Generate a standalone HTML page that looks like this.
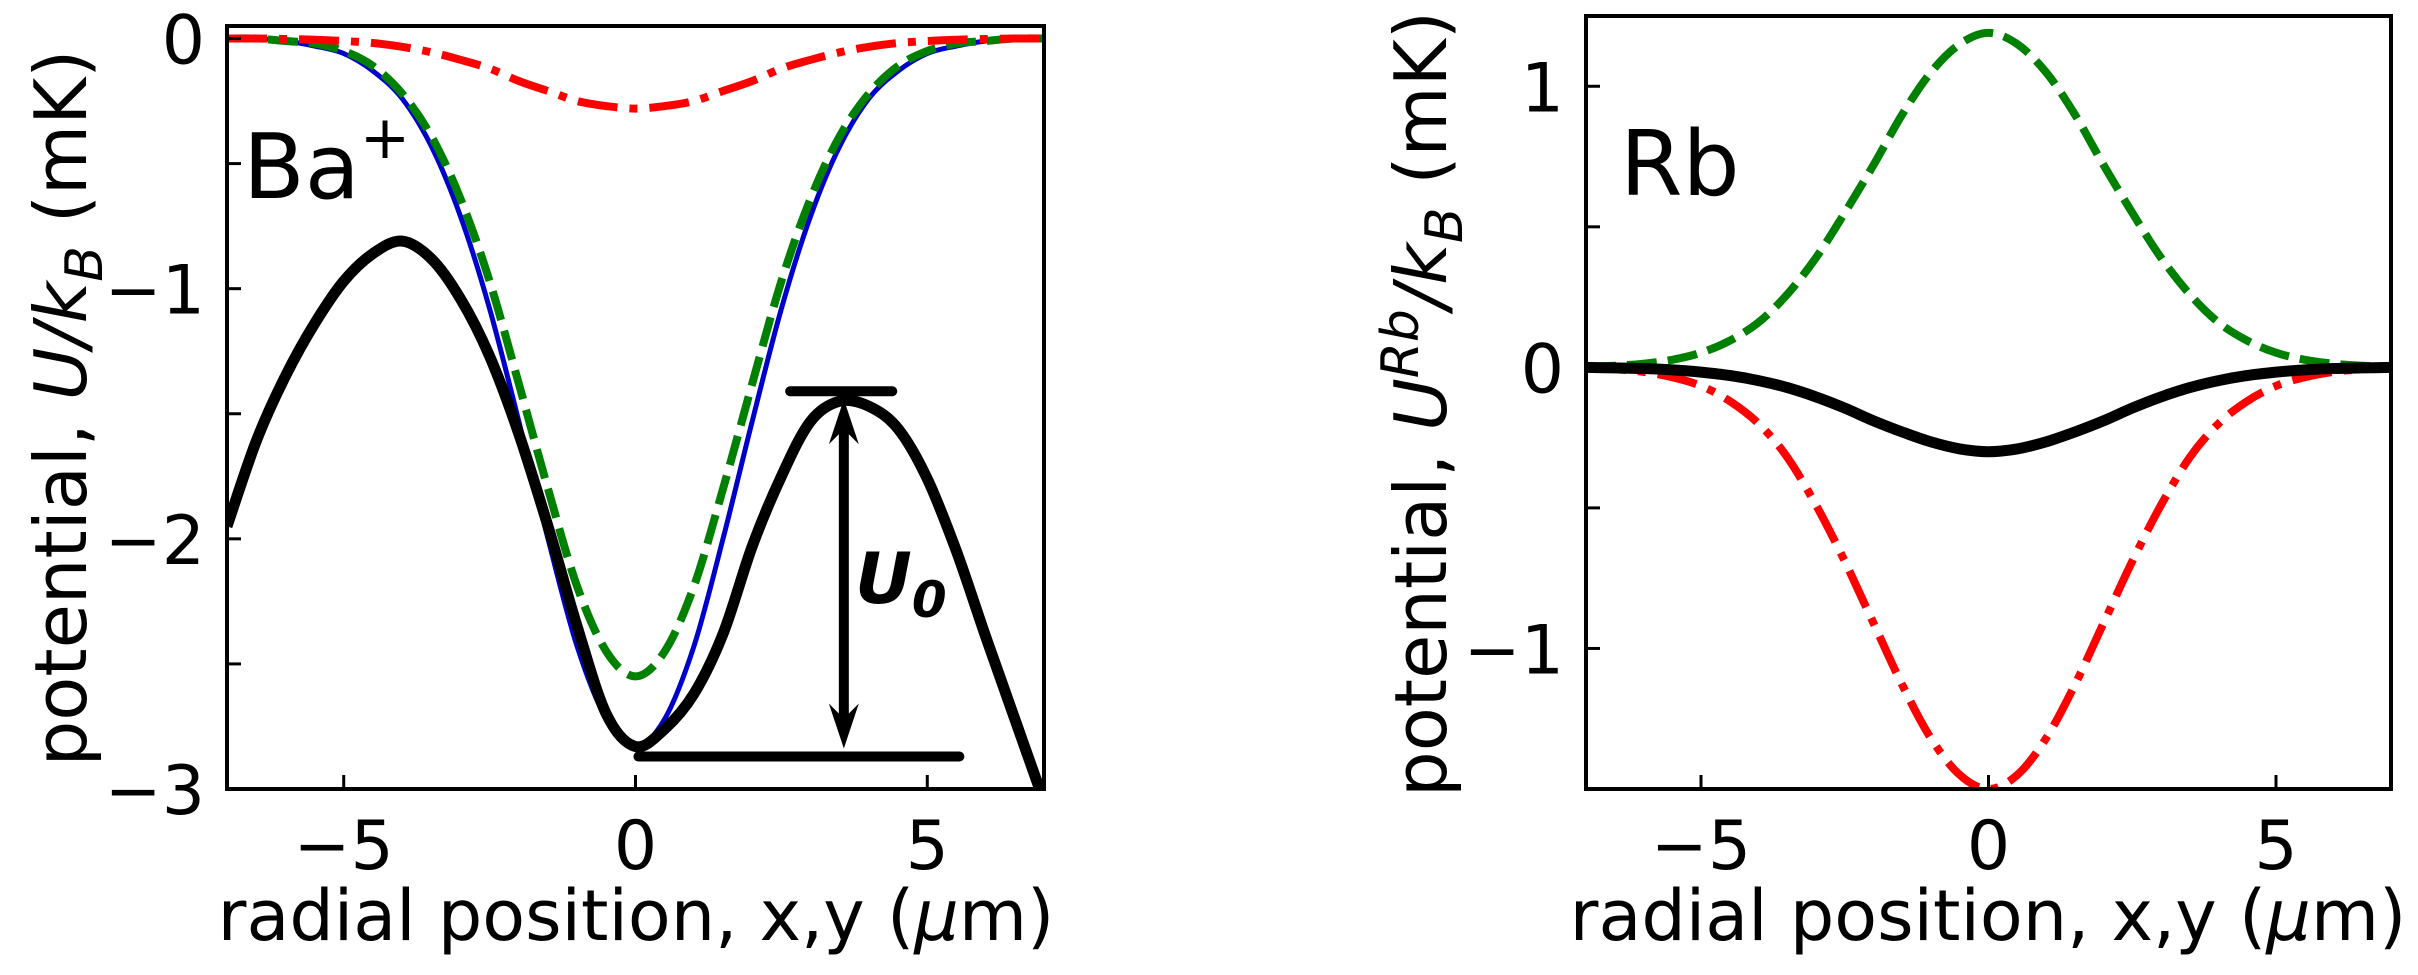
<!DOCTYPE html>
<html><head><meta charset="utf-8"><style>
html,body{margin:0;padding:0;background:#fff;}
svg{display:block;font-family:"DejaVu Sans","Liberation Sans",sans-serif;}
</style></head><body>
<svg id="fig" width="2418" height="975" viewBox="0 0 2418 975" xmlns="http://www.w3.org/2000/svg">
<g id="left"></g>
<g id="right"></g>
</svg>
<script>
const xs = [-7,-6.5,-6,-5.5,-5,-4.5,-4,-3.5,-3,-2.5,-2,-1.5,-1,-0.5,0,0.5,1,1.5,2,2.5,3,3.5,4,4.5,5,5.5,6,6.5,7];
const baTotal = [-1.95,-1.61,-1.35,-1.14,-0.97,-0.86,-0.81,-0.88,-1.04,-1.27,-1.58,-1.95,-2.35,-2.70,-2.83,-2.76,-2.62,-2.38,-2.03,-1.75,-1.53,-1.45,-1.47,-1.56,-1.76,-2.05,-2.39,-2.72,-3.05];
const baBlue = [0,0,-0.01,-0.03,-0.06,-0.13,-0.24,-0.43,-0.71,-1.08,-1.53,-2.00,-2.43,-2.72,-2.83,-2.72,-2.43,-2.00,-1.53,-1.08,-0.71,-0.43,-0.24,-0.13,-0.06,-0.03,-0.01,0,0];
const baGreen = [0,0,-0.01,-0.02,-0.05,-0.11,-0.22,-0.39,-0.64,-0.97,-1.38,-1.80,-2.19,-2.45,-2.55,-2.45,-2.19,-1.80,-1.38,-0.97,-0.64,-0.39,-0.22,-0.11,-0.05,-0.02,-0.01,0,0];
const baRed = [0,0,-0.002,-0.005,-0.01,-0.018,-0.033,-0.055,-0.085,-0.12,-0.17,-0.21,-0.25,-0.27,-0.28,-0.27,-0.25,-0.21,-0.17,-0.12,-0.085,-0.055,-0.033,-0.018,-0.01,-0.005,-0.002,0,0];
const rbTotal = [0,-0.002,-0.004,-0.009,-0.017,-0.029,-0.047,-0.072,-0.105,-0.145,-0.19,-0.23,-0.265,-0.29,-0.30,-0.29,-0.265,-0.23,-0.19,-0.145,-0.105,-0.072,-0.047,-0.029,-0.017,-0.009,-0.004,-0.002,0];
const rbGreen = [0.002,0.006,0.013,0.027,0.052,0.095,0.16,0.26,0.39,0.55,0.72,0.90,1.05,1.15,1.19,1.15,1.05,0.90,0.72,0.55,0.39,0.26,0.16,0.095,0.052,0.027,0.013,0.006,0.002];
const rbRed = [-0.003,-0.007,-0.016,-0.035,-0.066,-0.12,-0.20,-0.32,-0.49,-0.69,-0.91,-1.13,-1.32,-1.45,-1.50,-1.45,-1.32,-1.13,-0.91,-0.69,-0.49,-0.32,-0.20,-0.12,-0.066,-0.035,-0.016,-0.007,-0.003];
const xTicks = [-5,0,5];
const xTickLabels = ["\u22125","0","5"];
const baYTicks = [0,-1,-2,-3];
const baYTickLabels = ["0","\u22121","\u22122","\u22123"];
const rbYTicks = [1,0,-1];
const rbYTickLabels = ["1","0","\u22121"];

const NS="http://www.w3.org/2000/svg";
function mk(parent,tag,attrs,text){const e=document.createElementNS(NS,tag);for(const k in attrs)e.setAttribute(k,attrs[k]);if(text!==undefined)e.textContent=text;parent.appendChild(e);return e;}
function path(xf,yf,ys){
  const p=xs.map((x,i)=>[xf(x),yf(ys[i])]);
  let d="M"+p[0][0].toFixed(1)+","+p[0][1].toFixed(1);
  for(let i=0;i<p.length-1;i++){
    const p0=p[Math.max(0,i-1)],p1=p[i],p2=p[i+1],p3=p[Math.min(p.length-1,i+2)];
    const c1=[p1[0]+(p2[0]-p0[0])/6,p1[1]+(p2[1]-p0[1])/6];
    const c2=[p2[0]-(p3[0]-p1[0])/6,p2[1]-(p3[1]-p1[1])/6];
    d+="C"+c1[0].toFixed(1)+","+c1[1].toFixed(1)+" "+c2[0].toFixed(1)+","+c2[1].toFixed(1)+" "+p2[0].toFixed(1)+","+p2[1].toFixed(1);
  }
  return d;
}
function panel(g,id,L,R,T,B,ymin,ymax,yTicks,yLabels,minorTicks){
  const xf=x=>L+(x+7)/14*(R-L);
  const yf=y=>B-(y-ymin)/(ymax-ymin)*(B-T);
  const defs=mk(g,"defs",{});
  const cp=mk(defs,"clipPath",{id:"clip-"+id});
  mk(cp,"rect",{x:L,y:T,width:R-L,height:B-T});
  const plot=mk(g,"g",{"clip-path":"url(#clip-"+id+")"});
  return {xf,yf,plot,frame:()=>{
    const fr=mk(g,"rect",{x:L,y:T,width:R-L,height:B-T,fill:"none",stroke:"#000","stroke-width":4});
    
    
    xTicks.forEach((t,i)=>{
      const tk=mk(g,"line",{x1:xf(t),x2:xf(t),y1:B,y2:B-14,stroke:"#000","stroke-width":3});
      
      
      const tl=mk(g,"text",{x:xf(t),y:B+80,"font-size":68,"text-anchor":"middle"},xTickLabels[i]);
      
      
    });
    minorTicks.forEach(t=>{
      const tk=mk(g,"line",{x1:L,x2:L+14,y1:yf(t),y2:yf(t),stroke:"#000","stroke-width":3});
      
      
    });
    yTicks.forEach((t,i)=>{
      const tl=mk(g,"text",{x:L-22,y:yf(t)+25,"font-size":68,"text-anchor":"end"},yLabels[i]);
      
      
    });
  }};
}
// LEFT PANEL
const gl=document.getElementById("left");
const P1=panel(gl,"l",227,1044,26,789,-3,0.05,baYTicks,baYTickLabels,[0,-0.5,-1,-1.5,-2,-2.5,-3]);
let e;
e=mk(P1.plot,"path",{d:path(P1.xf,P1.yf,baBlue),fill:"none",stroke:"#0000cc","stroke-width":5});


e=mk(P1.plot,"path",{d:path(P1.xf,P1.yf,baGreen),fill:"none",stroke:"#008000","stroke-width":8,"stroke-dasharray":"30 11"});


e=mk(P1.plot,"path",{d:path(P1.xf,P1.yf,baRed),fill:"none",stroke:"#ff0000","stroke-width":8,"stroke-dasharray":"40 12 8 12"});


e=mk(P1.plot,"path",{d:path(P1.xf,P1.yf,baTotal),fill:"none",stroke:"#000","stroke-width":11});


// U0 annotation
const ann=mk(gl,"g",{});


mk(ann,"line",{x1:P1.xf(2.65),x2:P1.xf(4.4),y1:P1.yf(-1.41),y2:P1.yf(-1.41),stroke:"#000","stroke-width":10,"stroke-linecap":"round"});
mk(ann,"line",{x1:P1.xf(0.05),x2:P1.xf(5.55),y1:P1.yf(-2.87),y2:P1.yf(-2.87),stroke:"#000","stroke-width":10,"stroke-linecap":"round"});
const ax=P1.xf(3.57),ay1=P1.yf(-1.41)+8,ay2=P1.yf(-2.87)-8;
mk(ann,"line",{x1:ax,x2:ax,y1:ay1+30,y2:ay2-30,stroke:"#000","stroke-width":10});
mk(ann,"path",{d:`M${ax},${ay1} L${ax-15},${ay1+45} L${ax},${ay1+30} L${ax+15},${ay1+45}Z`,fill:"#000"});
mk(ann,"path",{d:`M${ax},${ay2} L${ax-15},${ay2-45} L${ax},${ay2-30} L${ax+15},${ay2-45}Z`,fill:"#000"});
const ut=mk(ann,"text",{x:855,y:603,"font-size":70,"font-weight":"bold","font-style":"italic"},"U");
mk(ut,"tspan",{"font-size":50,dy:14},"0");
P1.frame();
e=mk(gl,"text",{x:243,y:198,"font-size":90},"Ba");
mk(e,"tspan",{"font-size":60,dy:-40},"+");


e=mk(gl,"text",{x:636,y:940,"font-size":70,"text-anchor":"middle"},"radial position, x,y (");
mk(e,"tspan",{"font-style":"italic"},"\u03bc");
mk(e,"tspan",{},"m)");


e=mk(gl,"text",{x:0,y:0,"font-size":72,"text-anchor":"middle",transform:"translate(86,408) rotate(-90)"},"potential, ");
mk(e,"tspan",{"font-style":"italic"},"U/k");
mk(e,"tspan",{"font-style":"italic","font-size":52,dy:16},"B");
mk(e,"tspan",{dy:-16}," (mK)");



// RIGHT PANEL
const gr=document.getElementById("right");
const P2=panel(gr,"r",1586,2391,16,789,-1.5,1.25,rbYTicks,rbYTickLabels,[1,0.5,0,-0.5,-1]);
e=mk(P2.plot,"path",{d:path(P2.xf,P2.yf,rbGreen),fill:"none",stroke:"#008000","stroke-width":8,"stroke-dasharray":"30 11"});


e=mk(P2.plot,"path",{d:path(P2.xf,P2.yf,rbRed),fill:"none",stroke:"#ff0000","stroke-width":8,"stroke-dasharray":"40 12 8 12"});


e=mk(P2.plot,"path",{d:path(P2.xf,P2.yf,rbTotal),fill:"none",stroke:"#000","stroke-width":11});


P2.frame();
e=mk(gr,"text",{x:1620,y:195,"font-size":90},"Rb");


e=mk(gr,"text",{x:1988,y:940,"font-size":70,"text-anchor":"middle"},"radial position, x,y (");
mk(e,"tspan",{"font-style":"italic"},"\u03bc");
mk(e,"tspan",{},"m)");


e=mk(gr,"text",{x:0,y:0,"font-size":72,"text-anchor":"middle",transform:"translate(1446,404) rotate(-90)"},"potential, ");
mk(e,"tspan",{"font-style":"italic"},"U");
mk(e,"tspan",{"font-style":"italic","font-size":52,dy:-28},"Rb");
mk(e,"tspan",{"font-style":"italic",dy:28},"/k");
mk(e,"tspan",{"font-style":"italic","font-size":52,dy:16},"B");
mk(e,"tspan",{dy:-16}," (mK)");


</script>
</body></html>
